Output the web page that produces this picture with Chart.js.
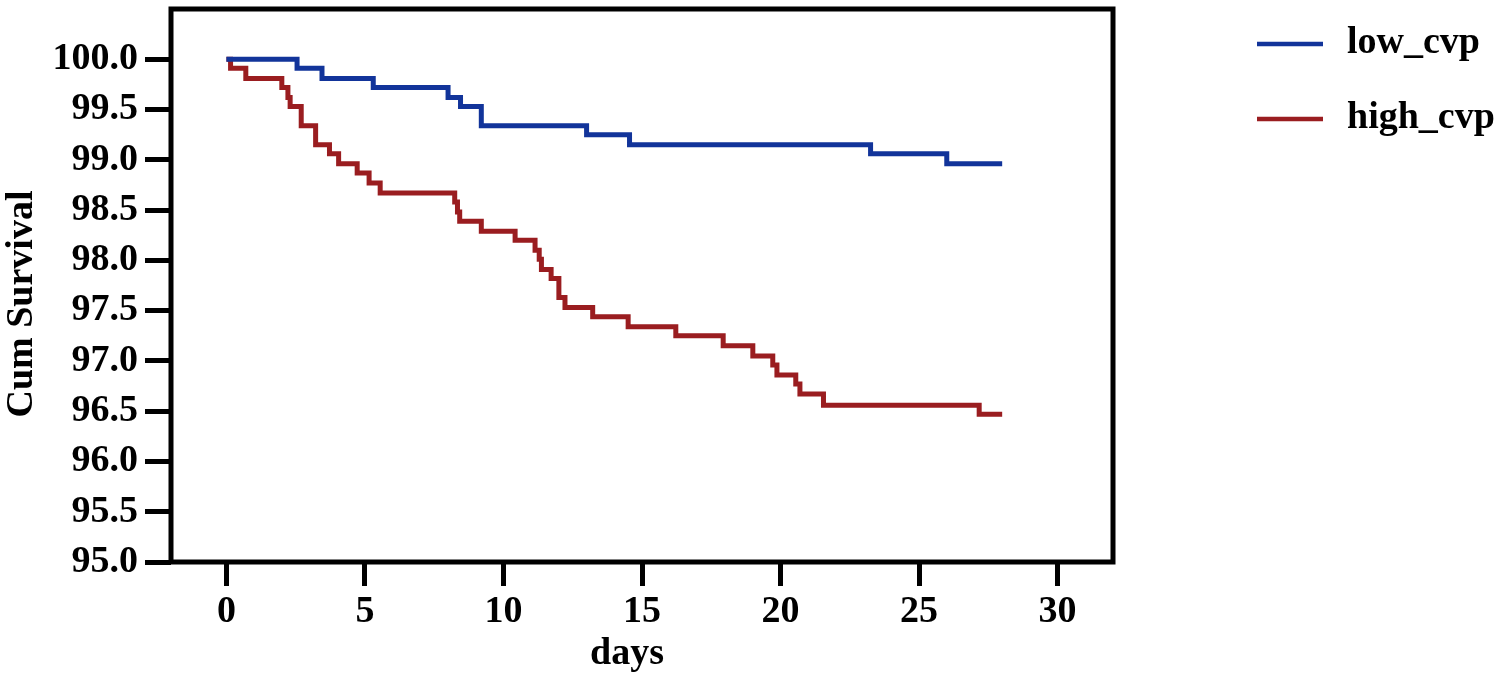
<!DOCTYPE html>
<html>
<head>
<meta charset="utf-8">
<script src="https://cdn.jsdelivr.net/npm/chart.js@4.4.1/dist/chart.umd.min.js"></script>
<style>
  body { margin: 0; background: #fff; }
  canvas { display: block; }
</style>
</head>
<body>
<canvas id="kmChart" width="1500" height="682"></canvas>
<script>
// Kaplan-Meier curves (day of each drop, survival after it)
const lowDays = [0, 2.55, 3.45, 5.3, 8.0, 8.45, 9.2, 13.0, 14.55, 23.25, 26.0, 28];
const lowSurv = [100, 99.91, 99.81, 99.72, 99.62, 99.53, 99.34, 99.25, 99.15, 99.06, 98.96, 98.96];

const highDays = [0, 0.15, 0.7, 2.0, 2.22, 2.3, 2.7, 3.22, 3.72, 4.05, 4.72, 5.15, 5.55,
  8.24, 8.34, 8.42, 9.2, 10.42, 11.14, 11.29, 11.37, 11.72, 12.0, 12.22, 13.22, 14.5,
  16.22, 17.93, 19.0, 19.72, 19.87, 20.55, 20.7, 21.55, 27.17, 28];
const highSurv = [100, 99.91, 99.81, 99.72, 99.62, 99.53, 99.34, 99.15, 99.06, 98.96, 98.87, 98.77, 98.67,
  98.58, 98.48, 98.39, 98.29, 98.20, 98.10, 98.01, 97.91, 97.82, 97.63, 97.53, 97.44, 97.34,
  97.25, 97.15, 97.05, 96.96, 96.86, 96.77, 96.67, 96.56, 96.47, 96.47];

const seriesNames = ['low_cvp', 'high_cvp'];
const seriesColors = ['#12349a', '#9a1d20'];

const xTicks = [0, 5, 10, 15, 20, 25, 30];
const yTicks = [95, 95.5, 96, 96.5, 97, 97.5, 98, 98.5, 99, 99.5, 100];
const xTitle = 'days';
const yTitle = 'Cum Survival';

const fontFamily = "'Liberation Serif', 'Times New Roman', serif";
const fontSize = 38;

function toPoints(days, surv) {
  return days.map((d, i) => ({ x: d, y: surv[i] }));
}

// box round the plot, axis titles and the legend on the right
const boxAndLegend = {
  id: 'boxAndLegend',
  afterDraw(chart) {
    const ctx = chart.ctx;
    const a = chart.chartArea;
    ctx.save();
    ctx.strokeStyle = '#000';
    ctx.lineWidth = 5;
    ctx.strokeRect(a.left, a.top, a.right - a.left, a.bottom - a.top);

    ctx.font = 'bold ' + fontSize + 'px ' + fontFamily;
    ctx.fillStyle = '#000';
    ctx.textBaseline = 'alphabetic';

    // axis titles, placed as in the picture (not quite centred on the axes)
    ctx.textAlign = 'center';
    ctx.fillText(xTitle, a.left + 456, a.bottom + 102);
    ctx.save();
    ctx.translate(a.left - 139, a.top + 295);
    ctx.rotate(-Math.PI / 2);
    ctx.fillText(yTitle, 0, 0);
    ctx.restore();

    ctx.textAlign = 'left';
    const rowsY = [44, 119];
    seriesNames.forEach((name, i) => {
      ctx.strokeStyle = seriesColors[i];
      ctx.lineWidth = 4.5;
      ctx.beginPath();
      ctx.moveTo(a.right + 144, rowsY[i]);
      ctx.lineTo(a.right + 210, rowsY[i]);
      ctx.stroke();
      ctx.fillText(name, a.right + 234, rowsY[i] + 9);
    });
    ctx.restore();
  }
};

const chart = new Chart(document.getElementById('kmChart').getContext('2d'), {
  type: 'line',
  data: {
    datasets: [
      {
        label: seriesNames[0],
        data: toPoints(lowDays, lowSurv),
        borderColor: seriesColors[0],
        borderWidth: 5,
        stepped: true,
        pointRadius: 0,
        fill: false
      },
      {
        label: seriesNames[1],
        data: toPoints(highDays, highSurv),
        borderColor: seriesColors[1],
        borderWidth: 5,
        stepped: true,
        pointRadius: 0,
        fill: false
      }
    ]
  },
  options: {
    responsive: false,
    animation: false,
    devicePixelRatio: 1,
    layout: { padding: { top: 9, right: 387, left: 0, bottom: 0 } },
    plugins: {
      legend: { display: false },
      tooltip: { enabled: false }
    },
    scales: {
      x: {
        type: 'linear',
        min: -2,
        max: 32,
        afterBuildTicks: scale => { scale.ticks = xTicks.map(v => ({ value: v })); },
        afterFit: scale => { scale.height = 120; },
        grid: {
          drawOnChartArea: false,
          drawTicks: true,
          tickLength: 24,
          tickWidth: 5,
          tickColor: '#000'
        },
        border: { display: false },
        ticks: {
          color: '#000',
          padding: 3,
          maxRotation: 0,
          font: { family: fontFamily, size: fontSize, weight: 'bold' }
        }
      },
      y: {
        type: 'linear',
        min: 95,
        max: 100.5,
        afterBuildTicks: scale => { scale.ticks = yTicks.map(v => ({ value: v })); },
        afterFit: scale => {
          scale.width = 171;
          scale.paddingTop = 0;
          scale.paddingBottom = 0;
        },
        grid: {
          drawOnChartArea: false,
          drawTicks: true,
          tickLength: 26,
          tickWidth: 5,
          tickColor: '#000'
        },
        border: { display: false },
        ticks: {
          color: '#000',
          padding: 7,
          callback: v => Number(v).toFixed(1),
          font: { family: fontFamily, size: fontSize, weight: 'bold' }
        }
      }
    }
  },
  plugins: [boxAndLegend]
});
</script>
</body>
</html>
